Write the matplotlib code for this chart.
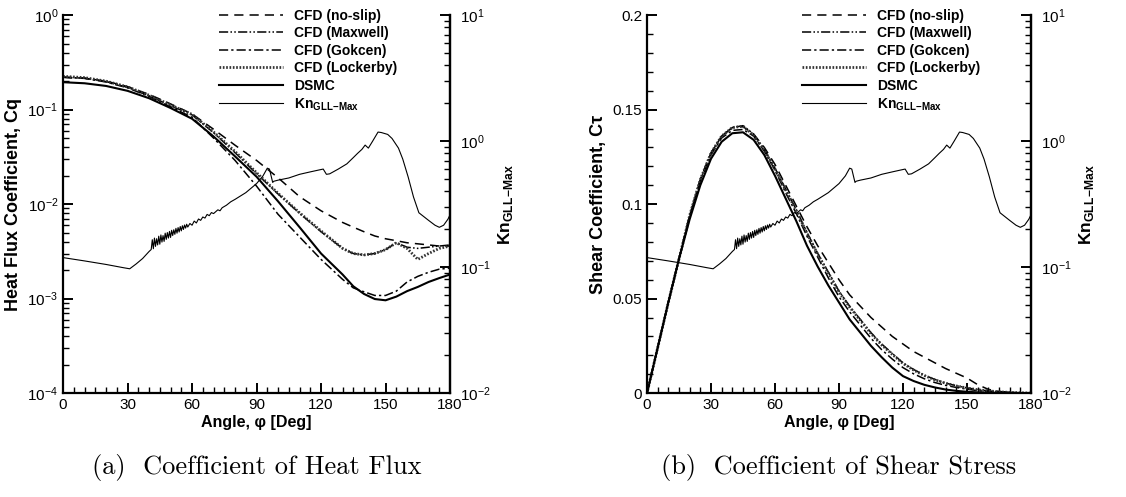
import matplotlib
matplotlib.use("Agg")
import matplotlib.pyplot as plt
from matplotlib.ticker import FixedLocator, LogLocator, MultipleLocator, FuncFormatter, NullFormatter
import numpy as np

plt.rcParams["font.family"] = ["Liberation Sans", "DejaVu Sans"]
plt.rcParams["mathtext.fontset"] = "custom"
plt.rcParams["mathtext.rm"] = "Liberation Sans"
plt.rcParams["mathtext.bf"] = "Liberation Sans:bold"

# ---- heat flux coefficient (panel a) ----
angle_q = [0, 10, 20, 30, 40, 50, 60, 70, 80, 90, 100, 110, 120, 130, 135, 140,
           145, 150, 155, 160, 165, 170, 175, 180]
cq_noslip = [0.22, 0.215, 0.20, 0.175, 0.145, 0.115, 0.090, 0.062, 0.042, 0.029,
             0.019, 0.012, 0.0085, 0.0064, 0.0057, 0.0051, 0.0046, 0.0043, 0.0041,
             0.0039, 0.0038, 0.0037, 0.0036, 0.0036]
cq_maxwell = [0.22, 0.215, 0.198, 0.172, 0.140, 0.110, 0.088, 0.057, 0.035, 0.021,
              0.0128, 0.0080, 0.0051, 0.0034, 0.0030, 0.0029, 0.0030, 0.0033, 0.0039,
              0.0035, 0.0034, 0.0035, 0.0036, 0.0037]
cq_gokcen = [0.22, 0.214, 0.196, 0.170, 0.138, 0.107, 0.083, 0.050, 0.029, 0.0155,
             0.0078, 0.0045, 0.0026, 0.0016, 0.0013, 0.00118, 0.00108, 0.00108, 0.0012,
             0.0015, 0.00172, 0.0019, 0.00205, 0.0021]
cq_lockerby = [0.225, 0.218, 0.200, 0.174, 0.142, 0.112, 0.089, 0.058, 0.036, 0.0215,
               0.0130, 0.0081, 0.0052, 0.0034, 0.0030, 0.0029, 0.0030, 0.0033, 0.0039,
               0.0034, 0.0026, 0.0030, 0.0034, 0.0036]
cq_dsmc = [0.195, 0.19, 0.178, 0.158, 0.132, 0.104, 0.080, 0.052, 0.032, 0.0195,
           0.0107, 0.0057, 0.0030, 0.0018, 0.00135, 0.00112, 0.00099, 0.00096, 0.00105,
           0.0012, 0.00133, 0.0015, 0.00165, 0.0018]

# ---- shear coefficient (panel b) ----
angle_t = [0, 5, 10, 15, 20, 25, 30, 35, 40, 45, 50, 55, 60, 65, 70, 75, 80, 85, 90,
           95, 100, 105, 110, 115, 120, 125, 130, 135, 140, 145, 150, 155, 160, 165,
           170, 175, 180]
ct_noslip = [0, 0.024, 0.048, 0.071, 0.094, 0.113, 0.127, 0.136, 0.1405, 0.141, 0.137,
             0.130, 0.121, 0.110, 0.099, 0.088, 0.078, 0.069, 0.060, 0.052, 0.046,
             0.040, 0.035, 0.030, 0.026, 0.022, 0.019, 0.016, 0.013, 0.0105, 0.008,
             0.0045, 0.002, 0.0009, 0.0004, 0.0001, 0]
ct_maxwell = [0, 0.024, 0.048, 0.071, 0.094, 0.113, 0.127, 0.136, 0.1405, 0.1415, 0.137,
              0.129, 0.119, 0.108, 0.097, 0.085, 0.074, 0.064, 0.054, 0.046, 0.039,
              0.032, 0.026, 0.021, 0.0160, 0.0125, 0.0095, 0.0072, 0.0053, 0.0039,
              0.0028, 0.0018, 0.0012, 0.0007, 0.0004, 0.0002, 0]
ct_gokcen = [0, 0.024, 0.048, 0.071, 0.093, 0.112, 0.126, 0.135, 0.139, 0.1395, 0.136,
             0.128, 0.118, 0.106, 0.095, 0.083, 0.072, 0.061, 0.051, 0.043, 0.036,
             0.029, 0.023, 0.018, 0.0135, 0.0102, 0.0076, 0.0056, 0.0041, 0.0030,
             0.0021, 0.0013, 0.0008, 0.0005, 0.0003, 0.0001, 0]
ct_lockerby = [0, 0.024, 0.048, 0.071, 0.094, 0.113, 0.127, 0.136, 0.1405, 0.1412, 0.1365,
               0.1285, 0.1185, 0.1075, 0.0965, 0.0845, 0.0735, 0.0635, 0.0535, 0.0455,
               0.0385, 0.0315, 0.0255, 0.0205, 0.0157, 0.0122, 0.0093, 0.0070, 0.0052,
               0.0038, 0.0027, 0.0018, 0.0012, 0.0007, 0.0004, 0.0002, 0]
ct_dsmc = [0, 0.024, 0.048, 0.071, 0.092, 0.110, 0.124, 0.133, 0.1375, 0.138, 0.134,
           0.126, 0.115, 0.103, 0.091, 0.078, 0.067, 0.057, 0.048, 0.039, 0.032, 0.025,
           0.019, 0.0135, 0.0090, 0.0064, 0.0044, 0.0030, 0.0019, 0.0012, 0.0007,
           0.0004, 0.0002, 0.0001, 0, 0, 0]

# ---- max gradient-length Knudsen number (both panels) ----
angle_kn = [0, 10, 20, 28, 31, 34, 37, 40,
            41.0, 41.5, 42.0, 42.5, 43.0, 43.5, 44.0, 44.5, 45.0, 45.5, 46.0, 46.5,
            47.0, 47.5, 48.0, 48.5, 49.0, 49.5, 50.0, 50.5, 51.0, 51.5, 52.0, 52.5,
            53.0, 53.5, 54.0, 54.5, 55.0, 55.5, 56.0, 56.5, 57.0, 57.5, 58.0,
            59, 60, 61, 62, 63, 64, 65, 66, 67, 68, 69, 70, 72, 73, 74, 76, 78, 80,
            85, 90, 93, 95, 96, 97.5, 98, 100, 105, 110, 115, 119, 121, 122.5, 124,
            128, 132, 135, 137, 139, 140.5, 142, 144, 146.5, 148, 151, 153, 156, 158,
            160.5, 163, 165.5, 170, 173, 175, 177, 179, 180]
kn_max = [0.119, 0.112, 0.105, 0.099, 0.097, 0.106, 0.117, 0.133,
          0.138, 0.165, 0.140, 0.170, 0.146, 0.168, 0.150, 0.176, 0.152, 0.180, 0.158,
          0.178, 0.160, 0.186, 0.166, 0.188, 0.170, 0.192, 0.172, 0.196, 0.178, 0.198,
          0.182, 0.203, 0.186, 0.206, 0.190, 0.210, 0.194, 0.213, 0.199, 0.216, 0.204,
          0.219, 0.208,
          0.222, 0.215, 0.232, 0.224, 0.241, 0.235, 0.250, 0.245, 0.262, 0.256, 0.271,
          0.266, 0.285, 0.280, 0.296, 0.310, 0.330, 0.345,
          0.39, 0.46, 0.53, 0.61, 0.60, 0.47, 0.48, 0.49, 0.51, 0.545, 0.57, 0.59,
          0.60, 0.545, 0.55, 0.60, 0.66, 0.74, 0.80, 0.86, 0.93, 0.88, 1.0, 1.18,
          1.17, 1.13, 1.05, 0.88, 0.72, 0.52, 0.36, 0.27, 0.235, 0.215, 0.207, 0.215,
          0.24, 0.26]

labels = ["CFD (no-slip)", "CFD (Maxwell)", "CFD (Gokcen)", "CFD (Lockerby)", "DSMC"]
styles = [
    dict(color="black", lw=1.1, dashes=(6, 4)),
    dict(color="black", lw=1.1, dashes=(6, 1.5, 1, 1.5, 1, 1.5)),
    dict(color="black", lw=1.1, dashes=(6, 2, 1.5, 2)),
    dict(color="#333333", lw=2.0, dashes=(0.6, 0.6)),
    dict(color="black", lw=1.5),
]
KN_LABEL = r"Kn$_{\mathbf{GLL\!-\!Max}}$"


def pow_label(v, pos):
    return r"$\mathregular{10^{%d}}$" % int(round(np.log10(v)))


def style_axes(ax):
    for side in ("left", "bottom", "right"):
        ax.spines[side].set_linewidth(1.6)
    ax.spines["top"].set_visible(False)
    ax.tick_params(which="major", direction="in", length=7, width=1.4, labelsize=11)
    ax.tick_params(which="minor", direction="in", length=4, width=1.0)
    ax.tick_params(top=False)


def log_axis(axis):
    axis.set_major_locator(LogLocator(base=10, numticks=10))
    axis.set_minor_locator(LogLocator(base=10, subs=np.arange(2, 10), numticks=10))
    axis.set_major_formatter(FuncFormatter(pow_label))
    axis.set_minor_formatter(NullFormatter())


def draw_panel(ax, x, series, ylabel, caption, log):
    ax2 = ax.twinx()
    ax2.plot(angle_kn, kn_max, color="black", lw=0.8)
    handles = []
    for y, lab, st in zip(series, labels, styles):
        line, = ax.plot(x, y, label=lab, **st)
        handles.append(line)
    kn_line, = ax.plot([], [], color="black", lw=0.8, label=KN_LABEL)
    handles.append(kn_line)
    ax.set_zorder(ax2.get_zorder() + 1)
    ax.patch.set_visible(False)

    ax.set_xlim(0, 180)
    ax.xaxis.set_major_locator(MultipleLocator(30))
    ax.xaxis.set_minor_locator(MultipleLocator(5))
    if log:
        ax.set_yscale("log")
        ax.set_ylim(1e-4, 1)
        log_axis(ax.yaxis)
    else:
        ax.set_ylim(0, 0.2)
        ax.yaxis.set_major_locator(FixedLocator([0, 0.05, 0.1, 0.15, 0.2]))
        ax.yaxis.set_major_formatter(FuncFormatter(lambda v, p: "%g" % round(v, 3)))
        ax.yaxis.set_minor_locator(MultipleLocator(0.01))

    ax2.set_yscale("log")
    ax2.set_ylim(1e-2, 10)
    log_axis(ax2.yaxis)

    style_axes(ax)
    style_axes(ax2)
    ax2.tick_params(axis="y", which="major", pad=7)
    ax2.spines["left"].set_visible(False)
    ax2.spines["bottom"].set_visible(False)

    ax.set_xlabel("Angle, \u03c6 [Deg]", fontsize=11.5, fontweight="bold", labelpad=2)
    ax.set_ylabel(ylabel, fontsize=13, fontweight="bold", labelpad=4)
    ax2.set_ylabel(KN_LABEL, fontsize=12.5, fontweight="bold", labelpad=4)

    ax.legend(handles=handles, loc="upper left", bbox_to_anchor=(0.385, 1.035),
              frameon=False, prop=dict(weight="bold", size=10), handlelength=4.6,
              handletextpad=0.8, labelspacing=0.25, borderpad=0)

    ax.text(0.5, -0.198, caption, transform=ax.transAxes, ha="center", va="center",
            fontsize=19, family="cmr10")


fig = plt.figure(figsize=(11.26, 4.97), dpi=100)
ax_a = fig.add_axes([0.056, 0.209, 0.3437, 0.7606])
ax_b = fig.add_axes([0.5746, 0.209, 0.341, 0.7606])

draw_panel(ax_a, angle_q, [cq_noslip, cq_maxwell, cq_gokcen, cq_lockerby, cq_dsmc],
           "Heat Flux Coefficient, Cq", "(a)  Coefficient of Heat Flux", log=True)
draw_panel(ax_b, angle_t, [ct_noslip, ct_maxwell, ct_gokcen, ct_lockerby, ct_dsmc],
           "Shear Coefficient, C\u03c4", "(b)  Coefficient of Shear Stress", log=False)

fig.savefig("out.png", dpi=100)
